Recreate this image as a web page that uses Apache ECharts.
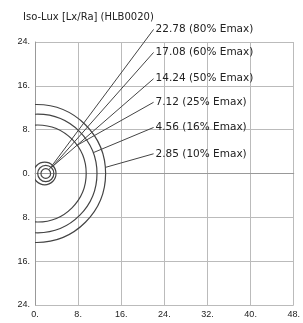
<!DOCTYPE html>
<html>
<head>
<meta charset="utf-8">
<script src="https://cdn.jsdelivr.net/npm/echarts@6/dist/echarts.min.js"></script>
<style>
html,body{margin:0;padding:0;background:#fff;}
#chart{width:303px;height:323px;}
</style>
</head>
<body>
<div id="chart"></div>
<script>
// isolux levels (lx) and share of Emax
var levels = [22.78, 17.08, 14.24, 7.12, 4.56, 2.85];
var percents = [80, 60, 50, 25, 16, 10];
// contour circles: centre on x axis and radius, in metres
var centerX = [2.0, 2.0, 1.8, 0.5, 0.5, 0.3];
var radii = [0.9, 1.5, 2.1, 9.0, 11.0, 12.8];
// leader lines: from contour to label
var leaderFrom = [[2.6, 0.7], [3.1, 1.1], [3.4, 1.4], [7.9, 5.2], [10.8, 3.8], [13.0, 1.1]];
var leaderTo = [[22, 26.3], [22, 22.1], [22, 17.3], [22, 13.0], [22, 8.4], [22, 3.6]];
var xTicks = [0, 8, 16, 24, 32, 40, 48];
var yTicks = [-24, -16, -8, 0, 8, 16, 24];

var chart = echarts.init(document.getElementById('chart'));

var circleData = [];
for (var i = 0; i < radii.length; i++) {
  circleData.push([centerX[i], radii[i]]);
}
var leaderData = [];
for (var j = 0; j < levels.length; j++) {
  leaderData.push([leaderFrom[j][0], leaderFrom[j][1], leaderTo[j][0], leaderTo[j][1]]);
}

var option = {
  animation: false,
  title: {
    text: 'Iso-Lux [Lx/Ra] (HLB0020)',
    left: 18,
    top: 7,
    textStyle: {fontSize: 10, fontWeight: 'normal', color: '#222', fontFamily: 'DejaVu Sans'}
  },
  grid: {left: 35, right: 2, top: 42, bottom: 18},
  xAxis: {
    type: 'value',
    min: xTicks[0],
    max: xTicks[xTicks.length - 1],
    interval: 8,
    axisLine: {lineStyle: {color: '#999'}},
    axisTick: {show: false},
    axisLabel: {fontSize: 9, color: '#222', margin: 5, formatter: function (v) { return v + '.'; }},
    splitLine: {lineStyle: {color: '#bbb'}}
  },
  yAxis: {
    type: 'value',
    min: yTicks[0],
    max: yTicks[yTicks.length - 1],
    interval: 8,
    axisLine: {show: true, lineStyle: {color: '#999'}},
    axisTick: {show: false},
    axisLabel: {fontSize: 9, color: '#222', margin: 5, formatter: function (v) { return Math.abs(v) + '.'; }},
    splitLine: {lineStyle: {color: '#bbb'}}
  },
  series: [
    {
      type: 'custom',
      clip: true,
      data: circleData,
      renderItem: function (params, api) {
        var c = api.coord([api.value(0), 0]);
        var r = api.size([api.value(1), 0])[0];
        var cs = params.coordSys;
        return {
          type: 'group',
          clipPath: {type: 'rect', shape: {x: cs.x, y: cs.y, width: cs.width, height: cs.height}},
          children: [{
            type: 'circle',
            shape: {cx: c[0], cy: c[1], r: r},
            style: {fill: 'none', stroke: '#444', lineWidth: 1.2}
          }]
        };
      }
    },
    {
      type: 'custom',
      clip: false,
      data: leaderData,
      renderItem: function (params, api) {
        var i = params.dataIndex;
        var s = api.coord([api.value(0), api.value(1)]);
        var e = api.coord([api.value(2), api.value(3)]);
        return {
          type: 'group',
          children: [
            {type: 'line', shape: {x1: s[0], y1: s[1], x2: e[0], y2: e[1]}, style: {stroke: '#444', lineWidth: 1}},
            {type: 'text', x: e[0] + 2, y: e[1],
              style: {text: levels[i].toFixed(2) + ' (' + percents[i] + '% Emax)', fill: '#222',
                font: '10.5px DejaVu Sans', verticalAlign: 'middle', align: 'left'}}
          ]
        };
      }
    }
  ]
};
chart.setOption(option);
</script>
</body>
</html>
